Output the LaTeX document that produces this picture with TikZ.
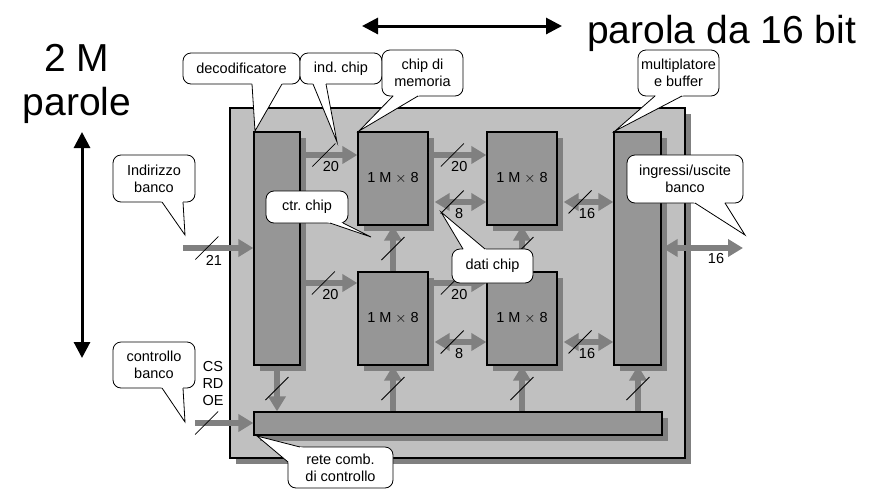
\documentclass[tikz,border=0pt]{standalone}
\usepackage{fontspec}
\setmainfont{Liberation Sans}
\usetikzlibrary{arrows.meta,shadows,calc}
\frenchspacing
\definecolor{boxlight}{HTML}{C0C0C0}
\definecolor{boxmid}{HTML}{969696}
\definecolor{shadowgray}{HTML}{808080}
\definecolor{busgray}{HTML}{808080}
\newcommand\busmark[3]{%
  \draw[slashline] ([shift={(-11.5,11.5)}]#1) -- ([shift={(11.5,-11.5)}]#1);
  \node[buslabel] (#3) at ([shift={(7,12)}]#1) {#2};}
\newcommand\busslash[1]{%
  \draw[slashline] ([shift={(-11.5,11.5)}]#1) -- ([shift={(11.5,-11.5)}]#1);}
\newcommand\calltail[3]{%
  \fill[white] ($(#2)!1.08!(#1)$) -- (#2) -- ($(#2)!1.08!(#3)$) -- cycle;
  \draw[tailline] (#1) -- (#2) -- (#3);}
\begin{document}
\begin{tikzpicture}[x=1pt,y=-1pt,
  every node/.style={font=\fontsize{14.5}{17}\selectfont\frenchspacing, text=black},
  shad/.style={drop shadow={shadow xshift=6pt,shadow yshift=-6pt,fill=shadowgray,opacity=1}},
  bankbox/.style={draw=black,line width=1.3pt,fill=boxlight,shad,inner sep=0pt},
  unitbox/.style={draw=black,line width=1.3pt,fill=boxmid,shad,inner sep=0pt},
  bus/.style={draw=busgray,line width=5.5pt,-{Triangle[length=15pt,width=17pt]}},
  dbus/.style={draw=busgray,line width=5.5pt,{Triangle[length=15pt,width=17pt]}-{Triangle[length=15pt,width=17pt]}},
  slashline/.style={draw=black,line width=0.8pt},
  buslabel/.style={inner sep=0pt},
  callout/.style={draw=black,line width=0.8pt,fill=white,rounded corners=8pt,inner sep=0pt,align=center},
  tailline/.style={draw=black,line width=0.8pt,line join=miter},
  bigtext/.style={font=\fontsize{39}{44}\selectfont,inner sep=0pt},
  bigarrow/.style={draw=black,line width=3pt,{Triangle[length=16pt,width=16pt]}-{Triangle[length=16pt,width=16pt]}}
]
\useasboundingbox (0,0) rectangle (887,491);

% rows
\coordinate (rA) at (0,155);
\coordinate (rB) at (0,202);
\coordinate (rC) at (0,283);
\coordinate (rD) at (0,342);
\coordinate (inStart) at (183,248);
\coordinate (ctlStart) at (195,423);
\coordinate (outEnd) at (743,248);

% bank
\node[bankbox, minimum width=455pt, minimum height=350pt] (bank) at (457.5,283) {};

% units
\node[unitbox, minimum width=46pt, minimum height=233pt] (dec) at (277,248.5) {};
\node[unitbox, minimum width=70pt, minimum height=93pt] (tl) at (393,178.5) {1 M $\times$ 8};
\node[unitbox, minimum width=70pt, minimum height=93pt] (tr) at (522,178.5) {1 M $\times$ 8};
\node[unitbox, minimum width=70pt, minimum height=93pt] (bl) at (393,318.5) {1 M $\times$ 8};
\node[unitbox, minimum width=70pt, minimum height=93pt] (br) at (522,318.5) {1 M $\times$ 8};
\node[unitbox, minimum width=47pt, minimum height=233pt] (mux) at (637.5,248.5) {};
\node[unitbox, minimum width=408pt, minimum height=23pt] (bar) at (458,423.5) {};

% buses
\draw[bus] (inStart) -- coordinate[pos=0.34] (mIn) (dec.west |- inStart);
\busmark{mIn}{21}{lIn}
\draw[bus] (ctlStart) -- coordinate[pos=0.2] (mCtl) (bar.west |- ctlStart);
\busslash{mCtl}

\draw[bus] (dec.east |- rA) -- coordinate[pos=0.41] (mA1) (tl.west |- rA);
\busmark{mA1}{20}{lA1}
\draw[bus] (tl.east |- rA) -- coordinate[pos=0.41] (mA2) (tr.west |- rA);
\busmark{mA2}{20}{lA2}
\draw[dbus] ([xshift=6pt]tl.east |- rB) -- coordinate[pos=0.34] (mB1) (tr.west |- rB);
\busmark{mB1}{8}{lB1}
\draw[dbus] ([xshift=6pt]tr.east |- rB) -- coordinate[pos=0.33] (mB2) (mux.west |- rB);
\busmark{mB2}{16}{lB2}

\draw[bus] (dec.east |- rC) -- coordinate[pos=0.4] (mC1) (bl.west |- rC);
\busmark{mC1}{20}{lC1}
\draw[bus] (bl.east |- rC) -- coordinate[pos=0.41] (mC2) (br.west |- rC);
\busmark{mC2}{20}{lC2}
\draw[dbus] ([xshift=6pt]bl.east |- rD) -- coordinate[pos=0.34] (mD1) (br.west |- rD);
\busmark{mD1}{8}{lD1}
\draw[dbus] ([xshift=6pt]br.east |- rD) -- coordinate[pos=0.33] (mD2) (mux.west |- rD);
\busmark{mD2}{16}{lD2}

\draw[dbus] ([xshift=1pt]mux.east |- outEnd) -- (outEnd);
\node[buslabel] (lOut) at (716,259) {16};

% vertical buses
\draw[bus] (bl.north) -- coordinate[pos=0.5] (mV1) (tl.south);
\busslash{mV1}
\draw[bus] (br.north) -- coordinate[pos=0.5] (mV2) (tr.south);
\busslash{mV2}
\draw[bus] (bl.south |- bar.north) -- coordinate[pos=0.5] (mV3) (bl.south);
\busslash{mV3}
\draw[bus] (br.south |- bar.north) -- coordinate[pos=0.5] (mV4) (br.south);
\busslash{mV4}
\draw[bus] ([xshift=0.5pt]mux.south |- bar.north) -- coordinate[pos=0.5] (mV5) ([xshift=0.5pt]mux.south);
\busslash{mV5}
\draw[bus] (dec.south) -- coordinate[pos=0.5] (mV6) (dec.south |- bar.north);
\busslash{mV6}

% control signals
\node[align=center, inner sep=0pt] (csrdoe) at (213,384) {CS\\RD\\OE};

% callouts
\node[callout, minimum width=117pt, minimum height=31pt] (kDec) at (241.5,68.5) {decodificatore};
\calltail{252,84}{255,131}{282,84}
\node[callout, minimum width=82pt, minimum height=31pt] (kInd) at (341,68.5) {ind. chip};
\calltail{313,84}{337,142}{326,84}
\node[callout, minimum width=81pt, minimum height=46pt] (kMem) at (422.5,73) {chip di\\memoria};
\calltail{393,96}{359,131}{418,96}
\node[callout, minimum width=81pt, minimum height=46pt] (kMux) at (678.5,73) {multiplatore\\e buffer};
\calltail{655,96}{615,131}{682,96}
\node[callout, minimum width=82pt, minimum height=47pt] (kAddr) at (154,178.5) {Indirizzo\\banco};
\calltail{162,202}{185,235}{183,202}
\node[callout, minimum width=82pt, minimum height=32pt] (kCtr) at (307,207) {ctr. chip};
\calltail{330,223}{371,237}{343,223}
\node[callout, minimum width=81pt, minimum height=34pt] (kDati) at (492.5,266) {dati chip};
\calltail{463,249}{441,212}{485,249}
\node[callout, minimum width=116pt, minimum height=48pt] (kIO) at (685,179) {ingressi/uscite\\banco};
\calltail{695,203}{745,235}{725,203}
\node[callout, minimum width=82pt, minimum height=46pt] (kCtl) at (154,365) {controllo\\banco};
\calltail{162,388}{185,422}{183,388}
\node[callout, minimum width=105pt, minimum height=41pt] (kRete) at (340.5,467.5) {rete comb.\\di controllo};
\calltail{288,462}{257,436}{300,447}

% big titles
\node[bigtext, anchor=base] (twoM) at (77,71) {2 M};
\node[bigtext, anchor=base] (parole) at (77,115) {parole};
\node[bigtext, anchor=base west] (parola) at (587,43) {parola da 16 bit};
\coordinate (hL) at (362,26);
\coordinate (hR) at (562,26);
\draw[bigarrow] (hL) -- (hR);
\coordinate (vT) at (82,132);
\coordinate (vB) at (82,358);
\draw[bigarrow] (vT) -- (vB);
\end{tikzpicture}
\end{document}
